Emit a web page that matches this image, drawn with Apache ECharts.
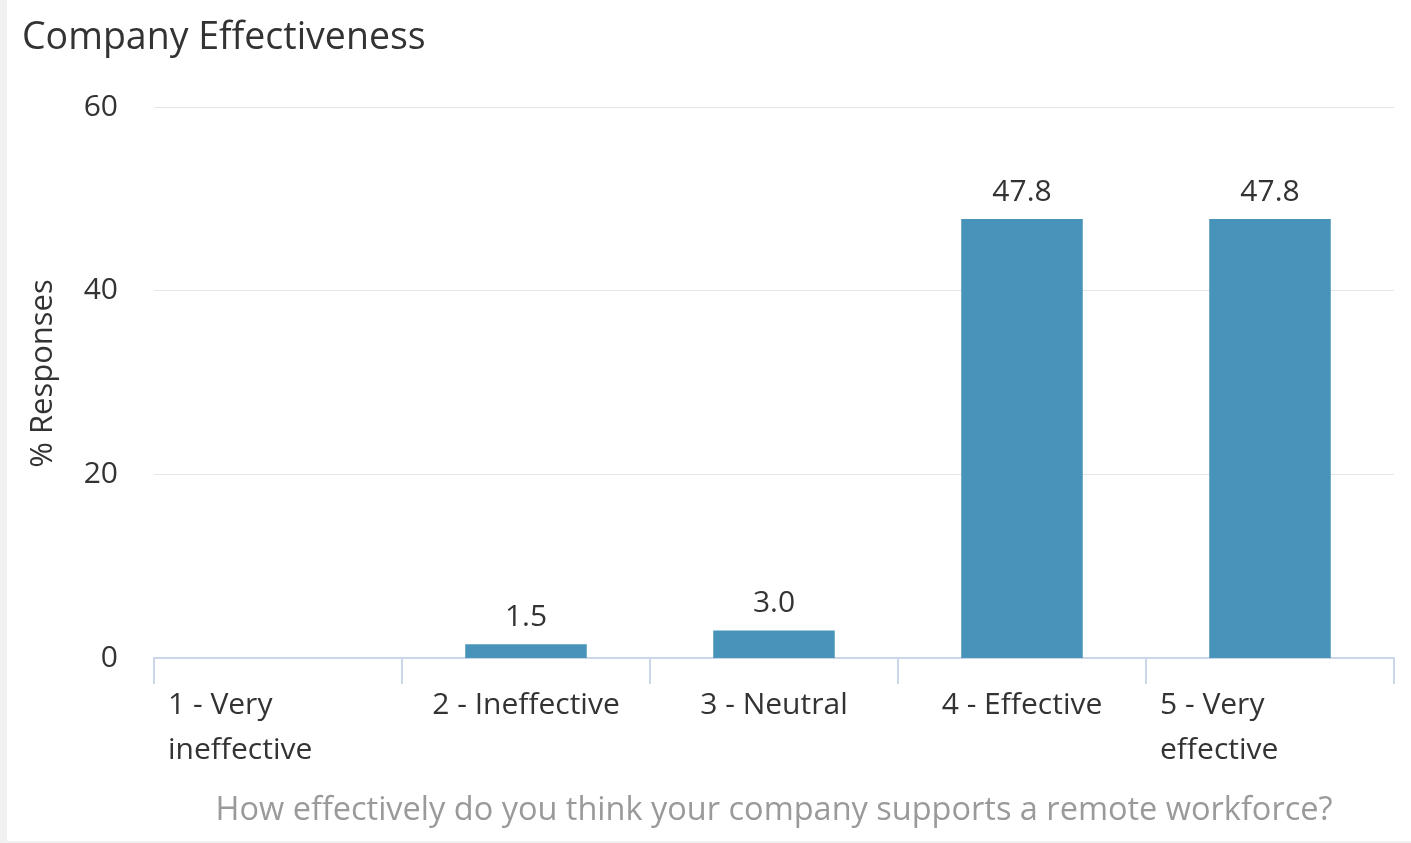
<!DOCTYPE html>
<html>
<head>
<meta charset="utf-8">
<script src="https://cdn.jsdelivr.net/npm/echarts@6/dist/echarts.min.js"></script>
<style>
  html, body { margin: 0; padding: 0; width: 1411px; height: 843px; background: #f1f1f1; overflow: hidden; }
  #chart { position: absolute; left: 7px; top: 0; width: 1404px; height: 841px; background: #ffffff; }
</style>
</head>
<body>
<div id="chart"></div>
<script>
const titleText = 'Company Effectiveness';
const categories = ['1 - Very\nineffective', '2 - Ineffective', '3 - Neutral', '4 - Effective', '5 - Very\neffective'];
const values = [0, 1.5, 3.0, 47.8, 47.8];
const yTicks = [0, 20, 40, 60];
const yAxisName = '% Responses';
const xAxisName = 'How effectively do you think your company supports a remote workforce?';

const FONT = '"Open Sans", "Noto Sans", sans-serif';
const chart = echarts.init(document.getElementById('chart'));
chart.setOption({
  animation: false,
  title: {
    text: titleText,
    left: 10, top: 14,
    textStyle: { fontFamily: FONT, fontSize: 37.5, fontWeight: 'normal', color: '#333333' }
  },
  grid: { left: 147, right: 17, top: 107, bottom: 183, containLabel: false },
  xAxis: {
    type: 'category',
    data: categories,
    name: xAxisName,
    nameLocation: 'middle',
    nameGap: 136,
    nameTextStyle: { fontFamily: FONT, fontSize: 32.5, color: '#9a9a9a' },
    axisLine: { lineStyle: { color: '#ccd6eb', width: 2 } },
    axisTick: { show: true, length: 26, lineStyle: { color: '#ccd6eb', width: 2 } },
    axisLabel: {
      interval: 0,
      margin: 25,
      fontFamily: FONT, fontSize: 30, color: '#333333', lineHeight: 45,
      formatter: function (v) {
        if (v.indexOf('\n') >= 0) {
          return v.split('\n').map(s => '{l|' + s + '}').join('\n');
        }
        return v;
      },
      rich: {
        l: { width: 220, align: 'left', fontFamily: FONT, fontSize: 30, color: '#333333', lineHeight: 45 }
      }
    },
    splitLine: { show: false }
  },
  yAxis: {
    type: 'value',
    min: yTicks[0], max: yTicks[yTicks.length - 1], interval: yTicks[1] - yTicks[0],
    name: yAxisName,
    nameLocation: 'middle',
    nameGap: 95,
    nameTextStyle: { fontFamily: FONT, fontSize: 31, color: '#333333', padding: [0, 0, 0, 18] },
    axisLine: { show: false },
    axisTick: { show: false },
    axisLabel: { margin: 36, fontFamily: FONT, fontSize: 30, color: '#333333', padding: [4, 0, 0, 0] },
    splitLine: { lineStyle: { color: '#e6e6e6', width: 1 } }
  },
  series: [{
    type: 'bar',
    data: values,
    barWidth: '49%',
    itemStyle: { color: '#4893b9' },
    label: {
      show: true,
      position: 'top',
      distance: 12,
      fontFamily: FONT, fontSize: 30, color: '#333333',
      formatter: p => (p.value ? p.value.toFixed(1) : '')
    }
  }]
});
</script>
</body>
</html>
